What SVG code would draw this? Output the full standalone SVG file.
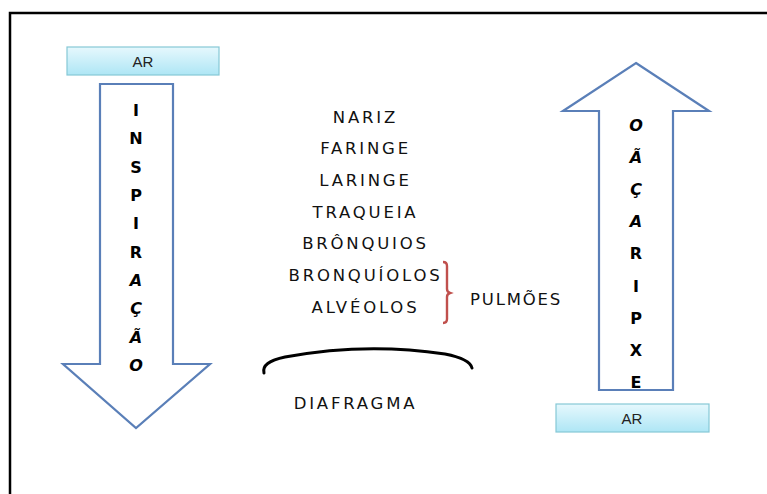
<svg xmlns="http://www.w3.org/2000/svg" width="767" height="494" viewBox="0 0 767 494">
<defs>
<linearGradient id="arGrad" x1="0" y1="0" x2="0" y2="1">
<stop offset="0" stop-color="#e6f8fd"/>
<stop offset="1" stop-color="#aee6f5"/>
</linearGradient>
<style>
.frame{fill:none;stroke:#000;stroke-width:2.5}
.arrow{fill:#fff;stroke:#5a7fb8;stroke-width:2.2;stroke-linejoin:miter}
.arbox{fill:url(#arGrad);stroke:#86c8d6;stroke-width:1.2}
.artxt{font-family:"Liberation Sans","DejaVu Sans",sans-serif;font-size:15px;fill:#222;text-anchor:middle}
.vl{font-family:"DejaVu Sans",sans-serif;font-size:16px;font-weight:bold;fill:#000;text-anchor:middle}
.it{font-style:italic}
.org{font-family:"DejaVu Sans",sans-serif;font-size:16.5px;fill:#111;text-anchor:middle;letter-spacing:2.8px}
</style>
</defs>
<rect width="767" height="494" fill="#fff"/>
<path class="frame" d="M10,494 L10,13 L767,13"/>

<g id="ar-top">
<rect class="arbox" x="67" y="47" width="152" height="28"/>
<text class="artxt" x="143" y="66.5">AR</text>
</g>

<g id="inspiracao">
<polygon class="arrow" points="100,84 173,84 173,364 210,364 136,428 63,364 100,364"/>
<text class="vl" x="136" y="116">I</text>
<text class="vl" x="136" y="144.3">N</text>
<text class="vl" x="136" y="172.7">S</text>
<text class="vl" x="136" y="201">P</text>
<text class="vl" x="136" y="229.3">I</text>
<text class="vl" x="136" y="257.7">R</text>
<text class="vl it" x="136" y="286">A</text>
<text class="vl it" x="136" y="314.3">Ç</text>
<text class="vl it" x="136" y="342.7">Ã</text>
<text class="vl it" x="136" y="371">O</text>
</g>

<g id="expiracao">
<polygon class="arrow" points="636,63 709,111 673,111 673,390 599,390 599,111 563,111"/>
<text class="vl it" x="636" y="131">O</text>
<text class="vl it" x="636" y="163">Ã</text>
<text class="vl it" x="636" y="195">Ç</text>
<text class="vl it" x="636" y="227">A</text>
<text class="vl" x="636" y="259">R</text>
<text class="vl" x="636" y="292">I</text>
<text class="vl" x="636" y="324">P</text>
<text class="vl" x="636" y="356">X</text>
<text class="vl" x="636" y="388">E</text>
</g>

<g id="ar-bottom">
<rect class="arbox" x="556" y="404" width="153" height="28"/>
<text class="artxt" x="632" y="423.5">AR</text>
</g>

<g id="orgaos">
<text class="org" x="365.5" y="123">NARIZ</text>
<text class="org" x="365.5" y="154">FARINGE</text>
<text class="org" x="365.5" y="186">LARINGE</text>
<text class="org" x="365.5" y="218">TRAQUEIA</text>
<text class="org" x="365.5" y="249">BRÔNQUIOS</text>
<text class="org" x="365.5" y="281">BRONQUÍOLOS</text>
<text class="org" x="365.5" y="313">ALVÉOLOS</text>
</g>

<g id="connectors">
<path d="M443,262 Q447,262 447,266 L447,289 Q447,292 450,293 Q447,294 447,297 L447,319 Q447,323 443,323" fill="none" stroke="#c0504d" stroke-width="2.4"/>
<path d="M264,373 Q261,362 285,357 Q365,342 445,354 Q470,359 472,368" fill="none" stroke="#000" stroke-width="3" stroke-linecap="round"/>
</g>

<g id="pulmoes">
<text class="org" x="516" y="305" style="letter-spacing:1.8px">PULMÕES</text>
</g>

<g id="diafragma">
<text class="org" x="355.5" y="409">DIAFRAGMA</text>
</g>
</svg>
